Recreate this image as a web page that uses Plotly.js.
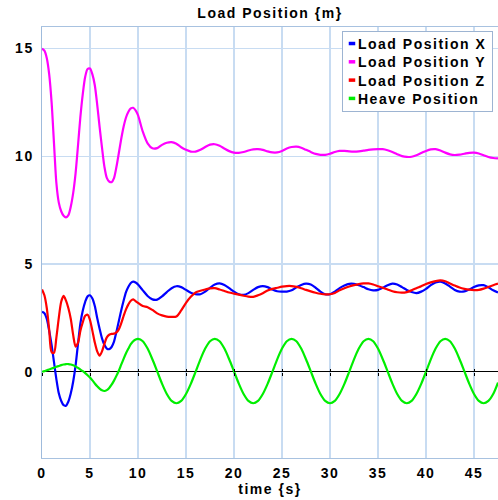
<!DOCTYPE html>
<html>
<head>
<meta charset="utf-8">
<script src="https://cdn.plot.ly/plotly-3.0.1.min.js"></script>
<style>
html,body{margin:0;padding:0;background:#fff;}
svg text{letter-spacing:1.5px;}
</style>
</head>
<body>
<div id="chart" style="width:498px;height:500px;"></div>
<script>
// time {s}
const time = [
  0,0.25,0.5,0.75,1,1.25,1.5,1.75,2,2.25,
  2.5,2.75,3,3.25,3.5,3.75,4,4.25,4.5,4.75,
  5,5.25,5.5,5.75,6,6.25,6.5,6.75,7,7.25,
  7.5,7.75,8,8.25,8.5,8.75,9,9.25,9.5,9.75,
  10,
  10.5,11,11.5,12,12.5,13,13.5,14,14.5,15,
  15.5,16,16.5,17,17.5,18,18.5,19,19.5,20,
  20.5,21,21.5,22,22.5,23,23.5,24,24.5,25,
  25.5,26,26.5,27,27.5,28,28.5,29,29.5,30,
  30.5,31,31.5,32,32.5,33,33.5,34,34.5,35,
  35.5,36,36.5,37,37.5,38,38.5,39,39.5,40,
  40.5,41,41.5,42,42.5,43,43.5,44,44.5,45,
  45.5,46,46.5,47,47.5
];
const loadPositionX = [
  2.78,2.72,2.45,1.9,1.25,0.45,-0.35,-1.0,-1.35,-1.55,
  -1.57,-1.38,-1.0,-0.45,0.3,1.3,2.25,2.85,3.25,3.5,
  3.55,3.4,3.05,2.5,2.0,1.55,1.25,1.08,1.05,1.15,
  1.4,1.85,2.35,2.85,3.3,3.7,3.95,4.12,4.18,4.14,
  4.05,
  3.78,3.52,3.36,3.35,3.5,3.7,3.88,3.97,3.93,3.8,
  3.67,3.6,3.6,3.72,3.9,4.05,4.1,4.03,3.88,3.72,
  3.6,3.57,3.65,3.8,3.93,3.98,3.93,3.82,3.74,3.72,
  3.72,3.78,3.92,4.03,4.09,4.05,3.9,3.72,3.6,3.6,
  3.72,3.88,4.0,4.08,4.08,4.02,3.93,3.83,3.78,3.8,
  3.9,4.02,4.09,4.05,3.93,3.8,3.7,3.65,3.72,3.85,
  4.02,4.14,4.18,4.1,3.95,3.8,3.72,3.73,3.82,3.93,
  4.01,4.02,3.92,3.78,3.68
];
const loadPositionY = [
  15.0,14.9,14.55,13.8,12.5,10.6,8.75,7.85,7.45,7.24,
  7.17,7.27,7.67,8.3,9.22,10.5,11.84,12.9,13.69,14.05,
  14.07,13.8,13.3,12.4,11.37,10.4,9.52,9.0,8.83,8.8,
  8.99,9.5,10.14,10.8,11.37,11.8,12.07,12.22,12.25,12.13,
  11.91,
  11.14,10.6,10.37,10.38,10.53,10.63,10.66,10.58,10.42,10.3,
  10.22,10.22,10.3,10.43,10.54,10.56,10.49,10.36,10.24,10.17,
  10.16,10.2,10.27,10.32,10.33,10.3,10.23,10.18,10.18,10.25,
  10.36,10.43,10.45,10.4,10.3,10.2,10.11,10.07,10.07,10.12,
  10.2,10.25,10.25,10.23,10.22,10.23,10.26,10.3,10.32,10.33,
  10.33,10.28,10.2,10.1,10.01,9.97,9.98,10.05,10.15,10.25,
  10.32,10.33,10.27,10.17,10.09,10.06,10.08,10.12,10.16,10.17,
  10.13,10.05,9.97,9.92,9.9
];
const loadPositionZ = [
  3.82,3.55,2.95,1.95,0.92,0.88,1.6,2.5,3.25,3.52,
  3.3,2.95,2.45,1.7,1.17,1.35,1.9,2.3,2.6,2.65,
  2.4,1.9,1.36,0.95,0.75,0.95,1.3,1.6,1.72,1.76,
  1.77,1.83,1.97,2.25,2.59,2.9,3.13,3.3,3.36,3.28,
  3.2,
  3.05,3.0,2.87,2.71,2.62,2.56,2.55,2.57,2.85,3.2,
  3.48,3.68,3.76,3.82,3.87,3.88,3.82,3.75,3.68,3.63,
  3.58,3.53,3.49,3.48,3.55,3.65,3.77,3.85,3.9,3.95,
  3.98,3.98,3.94,3.88,3.8,3.73,3.67,3.62,3.59,3.6,
  3.66,3.78,3.88,3.96,4.02,4.07,4.1,4.1,4.05,3.97,
  3.9,3.82,3.74,3.69,3.67,3.7,3.78,3.88,3.97,4.07,
  4.15,4.21,4.24,4.2,4.1,4.0,3.91,3.85,3.81,3.79,
  3.8,3.86,3.94,4.02,4.09
];
const heavePosition = [
  0.0,0.03,0.07,0.11,0.15,0.19,0.23,0.27,0.31,0.34,
  0.36,0.36,0.34,0.3,0.25,0.18,0.1,0.03,-0.06,-0.16,
  -0.27,-0.4,-0.54,-0.67,-0.78,-0.86,-0.89,-0.85,-0.75,-0.6,
  -0.41,-0.19,0.05,0.33,0.6,0.86,1.08,1.28,1.42,1.5,
  1.53,
  1.42,1.08,0.58,0.02,-0.55,-1.03,-1.35,-1.46,-1.35,-1.03,
  -0.56,0.0,0.58,1.08,1.42,1.53,1.42,1.08,0.58,0.02,
  -0.55,-1.03,-1.35,-1.46,-1.35,-1.03,-0.56,0.0,0.58,1.08,
  1.42,1.53,1.42,1.08,0.58,0.02,-0.55,-1.03,-1.35,-1.46,
  -1.35,-1.03,-0.56,0.0,0.58,1.08,1.42,1.53,1.42,1.08,
  0.58,0.02,-0.55,-1.03,-1.35,-1.46,-1.35,-1.03,-0.56,0.0,
  0.58,1.08,1.42,1.53,1.42,1.08,0.58,0.02,-0.55,-1.03,
  -1.35,-1.46,-1.35,-1.03,-0.5
];
const seriesNames = ['Load Position X','Load Position Y','Load Position Z','Heave Position'];
const seriesColors = ['#0000ff','#ff00ff','#ff0000','#00ee00'];
const seriesValues = [loadPositionX, loadPositionY, loadPositionZ, heavePosition];
const xTickVals = [0,5,10,15,20,25,30,35,40,45];
const yTickVals = [0,5,10,15];

const FONT = "'Liberation Sans', Arial, Helvetica, sans-serif";
const boldFont = (s) => ({family: FONT, size: s, color: '#000', weight: 'bold'});

const traces = [];
seriesValues.forEach((vals, i) => {
  traces.push({
    x: time, y: vals, type: 'scatter', mode: 'lines', name: seriesNames[i],
    line: {color: seriesColors[i], width: 2.2, shape: 'spline', smoothing: 0.8},
    showlegend: false, hoverinfo: 'skip'
  });
});
// legend entries (small coloured rectangles)
seriesValues.forEach((vals, i) => {
  traces.push({
    x: [null], y: [null], type: 'scatter', mode: 'markers', name: seriesNames[i],
    marker: {symbol: 'square', size: 5, color: seriesColors[i], line: {width: 0}},
    showlegend: true, hoverinfo: 'skip'
  });
});
// tick marks on the zero line
traces.push({x:[null], y:[null], xaxis:'x2', type:'scatter', mode:'lines', showlegend:false, hoverinfo:'skip'});
traces.push({x:[null], y:[null], xaxis:'x3', type:'scatter', mode:'lines', showlegend:false, hoverinfo:'skip'});

const zeroAxis = (side) => ({
  overlaying: 'x', anchor: 'free', position: 0.2, range: [0, 47.5],
  tickvals: xTickVals, ticks: side, ticklen: 3, tickwidth: 1, tickcolor: '#000',
  showticklabels: false, showgrid: false, zeroline: false, showline: false
});

const layout = {
  width: 498, height: 500,
  margin: {l: 42, r: 0, t: 27, b: 42, pad: 0},
  paper_bgcolor: '#fff', plot_bgcolor: '#fff',
  title: {text: 'Load Position {m}', font: boldFont(14), x: 0.5, xref: 'paper', xanchor: 'center', y: 0.973, yref: 'container', yanchor: 'middle'},
  showlegend: true,
  legend: {
    x: 0.989, y: 0.993, xanchor: 'right', yanchor: 'top',
    bgcolor: '#fff', bordercolor: '#9db4d2', borderwidth: 1,
    font: boldFont(14), tracegroupgap: 0, itemwidth: 30
  },
  xaxis: {
    range: [0, 47.5], tickvals: xTickVals, ticks: '',
    showgrid: true, gridcolor: '#c8dcf2', gridwidth: 1.5,
    zeroline: false, showline: true, linecolor: '#a8c2e0', linewidth: 1, mirror: true,
    tickfont: boldFont(14), ticklabelstandoff: 2,
    title: {text: 'time {s}', font: boldFont(14), standoff: 4}
  },
  yaxis: {
    range: [-4, 16], tickvals: yTickVals, ticks: '',
    showgrid: true, gridcolor: '#c8dcf2', gridwidth: 1.5,
    zeroline: true, zerolinecolor: '#000', zerolinewidth: 1,
    showline: true, linecolor: '#9fbbdc', linewidth: 1.5, mirror: true,
    tickfont: boldFont(14), ticklabelstandoff: 4
  },
  xaxis2: zeroAxis('outside'),
  xaxis3: zeroAxis('inside')
};

function parseTranslate(el) {
  const t = el.getAttribute('transform') || '';
  const m = t.match(/translate\(\s*([-\d.e]+)[ ,]*([-\d.e]+)?\s*\)/);
  return m ? [parseFloat(m[1]), parseFloat(m[2] || 0)] : [0, 0];
}

// compact the legend: small swatch close to the text, tighter rows
function compactLegend(gd) {
  const leg = gd.querySelector('g.legend');
  if (!leg) return;
  const shift = 25, rowH = 18.3, firstY = 12.5, bottomPad = 13;
  const bg = leg.querySelector('rect.bg');
  const items = leg.querySelectorAll('g.traces');
  if (!bg || !items.length) return;
  const [lx, ly] = parseTranslate(leg);
  leg.setAttribute('transform', 'translate(' + (lx + shift) + ',' + (ly + 1) + ')');
  const w = parseFloat(bg.getAttribute('width'));
  bg.setAttribute('width', w - shift);
  bg.setAttribute('height', firstY + (items.length - 1) * rowH + bottomPad);
  items.forEach((g, i) => {
    const [tx] = parseTranslate(g);
    g.setAttribute('transform', 'translate(' + tx + ',' + (firstY + i * rowH) + ')');
    const txt = g.querySelector('text.legendtext');
    if (txt) txt.setAttribute('x', parseFloat(txt.getAttribute('x')) - shift);
    g.querySelectorAll('.legendpoints path').forEach(p => {
      const [px, py] = parseTranslate(p);
      p.setAttribute('transform', 'translate(' + (px - 11) + ',' + py + ') scale(1.3,0.7)');
    });
  });
}

Plotly.newPlot('chart', traces, layout, {displayModeBar: false, staticPlot: true})
  .then(compactLegend);
</script>
</body>
</html>
